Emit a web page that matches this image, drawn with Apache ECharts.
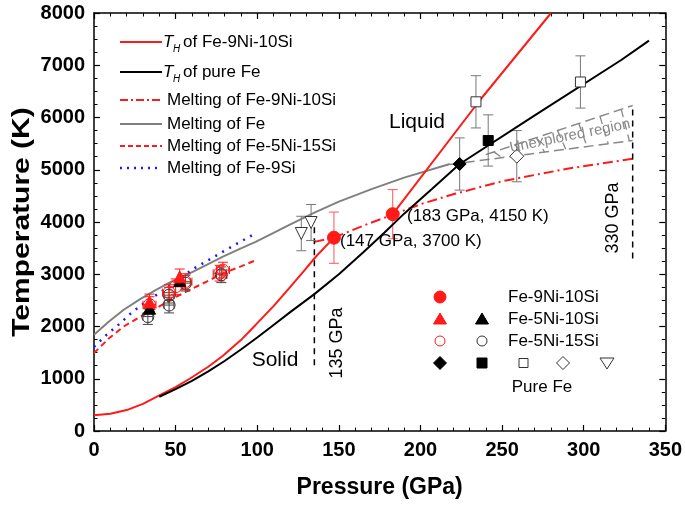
<!DOCTYPE html>
<html><head><meta charset="utf-8">
<script src="https://cdn.jsdelivr.net/npm/echarts@6/dist/echarts.min.js"></script>
<style>html,body{margin:0;padding:0;background:#fff}#c{width:685px;height:505px}</style>
</head><body><div id="c"></div>
<script>
// ---------- data (Pressure GPa, Temperature K) ----------
const thFeNiSiSolid = [[0,300],[10,330],[20,400],[30,520],[40,680],[50,840],[58.6,1000],[70,1230],[79,1440],[90,1740],[99,2030],[110,2390],[120,2750],[128,3040],[136,3340],[147,3700]];
const thFeNiSiLiquid = [[183,4150],[236.5,6335],[280,8000]];
const thPureFe = [[40,656],[50,800],[60,960],[70,1140],[80,1340],[90,1560],[100,1790],[110,2030],[120,2270],[135,2620],[150,3000],[165,3420],[178,3800],[190,4160],[207,4630],[224,5110],[270,6040],[323,7100],[340,7470]];
const meltFeNiSi = [[135,3620],[147,3700],[165,3930],[183,4140],[200,4340],[220,4530],[250,4780],[290,5020],[330,5210]];
const meltFe = [[0,1840],[9,2090],[18,2316],[28,2520],[38,2699],[48,2870],[58.6,3018],[69,3180],[79,3336],[89,3480],[99,3620],[110,3790],[120,3950],[135,4180],[150,4390],[170,4630],[190,4850],[218,5110]];
const meltFe5Ni15Si = [[0,1490],[9,1770],[18,1996],[28,2180],[38,2348],[48,2530],[58.6,2699],[69,2860],[79,3018],[90,3150],[100,3280]];
const meltFe9Si = [[0,1610],[8,1850],[16,2061],[23,2264],[30,2430],[38,2600],[45,2750],[53,2930],[60.6,3100],[70,3270],[79,3432],[89,3610],[99,3784]];
const line135 = [[135,1260],[135,4200]];
const line330 = [[330,3300],[330,6230]];
const unexploredLower = [[218,5100],[330,5560]];
const unexploredUpper = [[240,5290],[330,6230]];
const unexploredHatch = [[245,5342],[250,5231],[258,5478],[263,5285],[271,5614],[276,5338],[284,5749],[289,5392],[297,5885],[302,5445],[310,6021],[315,5498],[323,6157],[328,5552]];
// points: [P, T, Terr, Perr]
const fe9Ni10Si = [[147,3700,490,0],[183,4150,470,0]];
const fe5Ni10SiRed = [[34,2470,150,0],[52.5,2950,150,0]];
const fe5Ni10SiBlack = [[34,2350,0,0],[52.5,2880,0,0]];
const fe5Ni15SiRed = [[34,2420,150,4],[46,2650,150,4],[50,2760,150,4],[56,2860,150,4],[77,3020,150,4],[79,3080,150,4]];
const fe5Ni15SiBlack = [[33,2190,150,3],[46,2410,150,3],[46,2600,150,3],[56,2830,150,3],[78,2990,150,3]];
const feDiamondFilled = [[224,5110,500,0]];
const feSquareFilled = [[241.5,5560,490,0]];
const feSquareOpen = [[234,6300,500,0],[298,6680,500,0]];
const feDiamondOpen = [[259,5260,490,0]];
const feTriangleOpen = [[127,3780,330,0],[133,3990,345,0]];

const RED = '#ff1a1a', GRAY = '#888888', BLUE = '#1a1aff';
const F = '"Liberation Sans", Arial, sans-serif';

function lineS(data, color, type, width, z) {
  return {type:'line', data, symbol:'none', showSymbol:false, smooth:false,
    lineStyle:{color, type, width}, z: z || 2, silent:true, clip:true};
}
function segs(pairs, color, type, width) {
  const d = [];
  for (let i = 0; i < pairs.length; i += 2) { d.push(pairs[i], pairs[i+1], '-'); }
  return {type:'line', data:d, symbol:'none', showSymbol:false, connectNulls:false,
    lineStyle:{color, type, width}, z:2, silent:true};
}
function errS(data, color) {
  return {type:'custom', data, z:3, silent:true, clip:true,
    encode:{x:0, y:1},
    renderItem: function (params, api) {
      const x = api.value(0), y = api.value(1), ey = api.value(2), ex = api.value(3);
      const ch = [];
      const st = {stroke: color, lineWidth: 1};
      if (ey > 0) {
        const a = api.coord([x, y - ey]), b = api.coord([x, y + ey]);
        ch.push({type:'line', shape:{x1:a[0], y1:a[1], x2:b[0], y2:b[1]}, style:st});
        ch.push({type:'line', shape:{x1:a[0]-5, y1:a[1], x2:a[0]+5, y2:a[1]}, style:st});
        ch.push({type:'line', shape:{x1:b[0]-5, y1:b[1], x2:b[0]+5, y2:b[1]}, style:st});
      }
      if (ex > 0) {
        const a = api.coord([x - ex, y]), b = api.coord([x + ex, y]);
        ch.push({type:'line', shape:{x1:a[0], y1:a[1], x2:b[0], y2:b[1]}, style:st});
        ch.push({type:'line', shape:{x1:a[0], y1:a[1]-4, x2:a[0], y2:a[1]+4}, style:st});
        ch.push({type:'line', shape:{x1:b[0], y1:b[1]-4, x2:b[0], y2:b[1]+4}, style:st});
      }
      return {type:'group', children: ch};
    }};
}
function scat(data, symbol, size, fill, stroke, rotate) {
  return {type:'scatter', data: data.map(d => [d[0], d[1]]), symbol, symbolSize:size,
    symbolRotate: rotate || 0, itemStyle:{color:fill, borderColor:stroke, borderWidth:1, opacity:1}, z:5, silent:true};
}

const axisCommon = {
  type:'value', axisLine:{onZero:false, lineStyle:{color:'#000', width:1.5}},
  axisTick:{inside:true, length:6, lineStyle:{color:'#000', width:1.2}},
  minorTick:{show:true, length:3.5, lineStyle:{color:'#000', width:1}},
  splitLine:{show:false}
};
const tickFont = {color:'#000', fontWeight:'bold', fontSize:20, fontFamily:F, formatter: v => String(v)};

const option = {
  animation:false,
  backgroundColor:'#fff',
  grid:{left:94, right:18, top:13, bottom:74},
  xAxis:[
    Object.assign({}, axisCommon, {min:0, max:350, interval:50, position:'bottom',
      minorTick:Object.assign({}, axisCommon.minorTick, {splitNumber:5}),
      axisLabel:Object.assign({margin:9}, tickFont),
      name:'Pressure (GPa)', nameLocation:'middle', nameGap:45,
      nameTextStyle:{color:'#000', fontWeight:'bold', fontSize:23, fontFamily:F}}),
    Object.assign({}, axisCommon, {min:0, max:350, interval:50, position:'top',
      minorTick:Object.assign({}, axisCommon.minorTick, {splitNumber:5}),
      axisLabel:{show:false}})
  ],
  yAxis:[
    Object.assign({}, axisCommon, {min:0, max:8000, interval:1000, position:'left',
      minorTick:Object.assign({}, axisCommon.minorTick, {splitNumber:4}),
      axisLabel:Object.assign({margin:9}, tickFont)}),
    Object.assign({}, axisCommon, {min:0, max:8000, interval:1000, position:'right',
      minorTick:Object.assign({}, axisCommon.minorTick, {splitNumber:4}),
      axisLabel:{show:false}})
  ],
  series:[
    lineS(meltFe, '#808080', 'solid', 2),
    lineS(meltFe5Ni15Si, RED, [6,4], 2),
    lineS(meltFe9Si, BLUE, [2,6], 2.5),
    lineS(meltFeNiSi, RED, [10,4,2,4], 2),
    lineS(line135, '#000', [6,5], 1.5),
    lineS(line330, '#000', [6,5], 1.5),
    lineS(unexploredLower, GRAY, [10,5], 1.5),
    lineS(unexploredUpper, GRAY, [10,5], 1.5),
    segs(unexploredHatch, GRAY, [8,5], 1.3),
    lineS(thFeNiSiSolid, RED, 'solid', 2, 4),
    lineS(thFeNiSiLiquid, RED, 'solid', 2, 4),
    lineS(thPureFe, '#000', 'solid', 2, 4),
    errS(fe5Ni15SiBlack, '#444'),
    errS(fe5Ni15SiRed, RED),
    errS(fe5Ni10SiRed, RED),
    errS(fe9Ni10Si, '#ff5555'),
    errS(feDiamondFilled, '#777'),
    errS(feSquareFilled, '#777'),
    errS(feSquareOpen, '#777'),
    errS(feDiamondOpen, '#777'),
    errS(feTriangleOpen, '#777'),
    scat(fe5Ni15SiBlack, 'circle', 12, 'rgba(0,0,0,0)', '#333'),
    scat(fe5Ni15SiRed, 'circle', 12, 'rgba(0,0,0,0)', RED),
    scat(fe5Ni10SiBlack, 'triangle', 12, '#000', '#000'),
    scat(fe5Ni10SiRed, 'triangle', 12, RED, RED),
    scat(fe9Ni10Si, 'circle', 13, RED, RED),
    scat(feDiamondFilled, 'diamond', 13, '#000', '#000'),
    scat(feSquareFilled, 'rect', 10, '#000', '#000'),
    scat(feSquareOpen, 'rect', 10, '#fff', '#333'),
    scat(feDiamondOpen, 'diamond', 14, '#fff', '#333'),
    scat(feTriangleOpen, 'triangle', 12, '#fff', '#333', 180)
  ]
};

// ---------- legends and annotations ----------
const g = [];
function txt(x, y, s, o) {
  g.push(Object.assign({type:'text', x, y, z:20, style:Object.assign({text:s, font:'17px ' + F, fill:'#000', textVerticalAlign:'middle', textAlign:'left'}, o || {})}));
}
function seg(x1, y, x2, color, dash, w) {
  g.push({type:'line', z:20, shape:{x1, y1:y, x2, y2:y}, style:{stroke:color, lineWidth:w || 2, lineDash:dash || null}});
}
const legY = [42, 72, 100, 124, 146, 168];
seg(120, legY[0], 162, RED);
seg(120, legY[1], 162, '#000');
seg(120, legY[2], 162, RED, [8,3,2,3]);
seg(120, legY[3], 162, '#808080');
seg(120, legY[4], 162, RED, [5,3]);
seg(120, legY[5], 162, BLUE, [2,5], 2.5);
[0,1].forEach(i => {
  txt(163, legY[i], 'T', {font:'italic 17px ' + F});
  txt(173, legY[i] + 7, 'H', {font:'italic 10px ' + F});
});
txt(183, legY[0], 'of Fe-9Ni-10Si');
txt(183, legY[1], 'of pure Fe');
txt(167, legY[2], 'Melting of Fe-9Ni-10Si');
txt(167, legY[3], 'Melting of Fe');
txt(167, legY[4], 'Melting of Fe-5Ni-15Si');
txt(167, legY[5], 'Melting of Fe-9Si');

// marker legend
function circ(cx, cy, r, fill, stroke) { g.push({type:'circle', z:20, shape:{cx, cy, r}, style:{fill, stroke, lineWidth:1}}); }
function poly(pts, fill, stroke) { g.push({type:'polygon', z:20, shape:{points:pts}, style:{fill, stroke, lineWidth:1}}); }
const rY = [297, 319, 341, 363];
circ(440, rY[0], 6, RED, RED);
poly([[440,rY[1]-6],[446.5,rY[1]+5],[433.5,rY[1]+5]], RED, RED);
poly([[482,rY[1]-6],[488.5,rY[1]+5],[475.5,rY[1]+5]], '#000', '#000');
circ(440, rY[2], 5, '#fff', RED);
circ(482, rY[2], 5, '#fff', '#333');
poly([[440,rY[3]-6.5],[446.5,rY[3]],[440,rY[3]+6.5],[433.5,rY[3]]], '#000', '#000');
g.push({type:'rect', z:20, shape:{x:477, y:rY[3]-5, width:10, height:10}, style:{fill:'#000', stroke:'#000'}});
g.push({type:'rect', z:20, shape:{x:519, y:rY[3]-4.5, width:9, height:9}, style:{fill:'#fff', stroke:'#333', lineWidth:1}});
poly([[563,rY[3]-6.5],[569.5,rY[3]],[563,rY[3]+6.5],[556.5,rY[3]]], '#fff', '#333');
poly([[600,rY[3]-5],[614,rY[3]-5],[607,rY[3]+6]], '#fff', '#333');
txt(508, rY[0], 'Fe-9Ni-10Si');
txt(508, rY[1], 'Fe-5Ni-10Si');
txt(508, rY[2], 'Fe-5Ni-15Si');
txt(542, 387, 'Pure Fe', {textAlign:'center'});

// annotations
txt(275, 360, 'Solid', {font:'21px ' + F, textAlign:'center'});
txt(417, 122, 'Liquid', {font:'21px ' + F, textAlign:'center'});
txt(340, 241, '(147 GPa, 3700 K)');
txt(407, 216, '(183 GPa, 4150 K)');
g.push({type:'text', z:20, x:337, y:343, rotation:Math.PI/2,
  style:{text:'135 GPa', font:'18px ' + F, fill:'#000', textAlign:'center', textVerticalAlign:'middle'}});
g.push({type:'text', z:20, x:613, y:218, rotation:Math.PI/2,
  style:{text:'330 GPa', font:'18px ' + F, fill:'#000', textAlign:'center', textVerticalAlign:'middle'}});
g.push({type:'text', z:20, x:570, y:136, rotation:0.2,
  style:{text:'Unexplored region', font:'15px ' + F, fill:'#888', textAlign:'center', textVerticalAlign:'middle'}});
// y-axis title
g.push({type:'text', z:20, x:22, y:222, rotation:Math.PI/2, scaleX:1.25, scaleY:1,
  style:{text:'Temperature (K)', font:'bold 24px ' + F, fill:'#000', textAlign:'center', textVerticalAlign:'middle'}});

option.graphic = g;
const chart = echarts.init(document.getElementById('c'));
chart.setOption(option);
</script>
</body></html>
